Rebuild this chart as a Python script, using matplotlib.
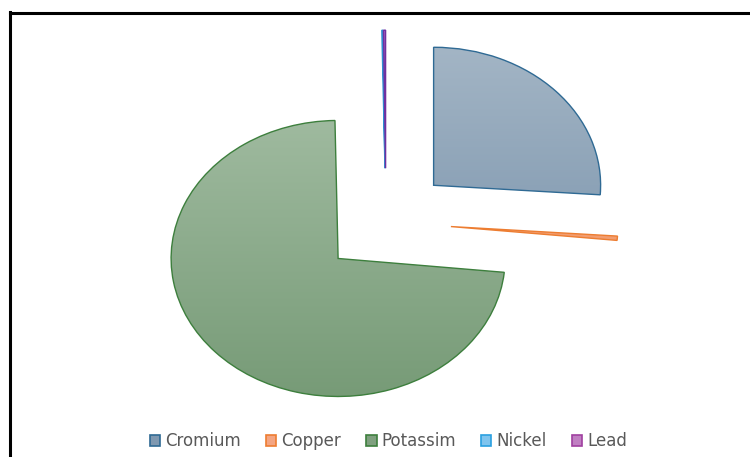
import numpy as np
import matplotlib
matplotlib.use("Agg")
import matplotlib.pyplot as plt
from matplotlib.colors import LinearSegmentedColormap
from matplotlib.patches import Patch
from matplotlib.lines import Line2D

# slice shares (percent)
labels = ['Cromium', 'Copper', 'Potassim', 'Nickel', 'Lead']
values = [26.1, 0.5, 73.1, 0.1, 0.2]

face_top = ['#a3b5c5', '#f6ae88', '#9fba9f', '#7fc4ee', '#a466c0']
face_bottom = ['#7791aa', '#ef8f5c', '#779b77', '#4aa6e0', '#7a35a8']
edge_colors = ['#2f6a94', '#ed7d31', '#3d7f3d', '#2f8fd0', '#7030a0']
legend_face = ['#7f98b0', '#f4a582', '#7fa07f', '#7fc4ee', '#c07fc2']
legend_edge = ['#2f6a94', '#ed7d31', '#3d7f3d', '#2aa0e0', '#a040a0']

W, H = 750, 457
fig = plt.figure(figsize=(W / 100, H / 100), dpi=100)
ax = fig.add_axes([0, 0, 1, 1])

wedges, _ = ax.pie(values, explode=[0.39] * len(values), startangle=90,
                   counterclock=False, radius=1,
                   wedgeprops=dict(linewidth=1.0))

for i, w in enumerate(wedges):
    cmap = LinearSegmentedColormap.from_list(f'g{i}', [face_bottom[i], face_top[i]])
    cx, cy = w.center
    grad = np.linspace(0, 1, 256).reshape(-1, 1)
    im = ax.imshow(grad, extent=(cx - 1, cx + 1, cy - 1, cy + 1), origin='lower',
                   cmap=cmap, aspect='auto', zorder=0.9)
    im.set_clip_path(w)
    w.set_facecolor('none')
    w.set_edgecolor(edge_colors[i])
    w.set_zorder(2)

# stretch the pie into an ellipse like the original
ax.set_aspect('auto')
ax.set_xlim(-386 / 167, (W - 386) / 167)
ax.set_ylim(-(H - 222) / 138, 222 / 138)
ax.axis('off')

# chart frame (only top and left edges visible)
fig.add_artist(Line2D([9.5 / W, 1], [1 - 13 / H, 1 - 13 / H], color='black', lw=2.2,
                      transform=fig.transFigure))
fig.add_artist(Line2D([10 / W, 10 / W], [0, 1 - 12 / H], color='black', lw=2.2,
                      transform=fig.transFigure))

handles = [Patch(facecolor=legend_face[i], edgecolor=legend_edge[i], linewidth=1.2)
           for i in range(len(labels))]
leg = fig.legend(handles, labels, loc='center', bbox_to_anchor=(0.518, 0.035),
                 ncol=5, frameon=False, handlelength=0.62,
                 handleheight=0.62, handletextpad=0.3, columnspacing=1.5,
                 prop={'family': 'DejaVu Sans', 'size': 12})
for t in leg.get_texts():
    t.set_color('#595959')

fig.savefig('out.png', dpi=100)
